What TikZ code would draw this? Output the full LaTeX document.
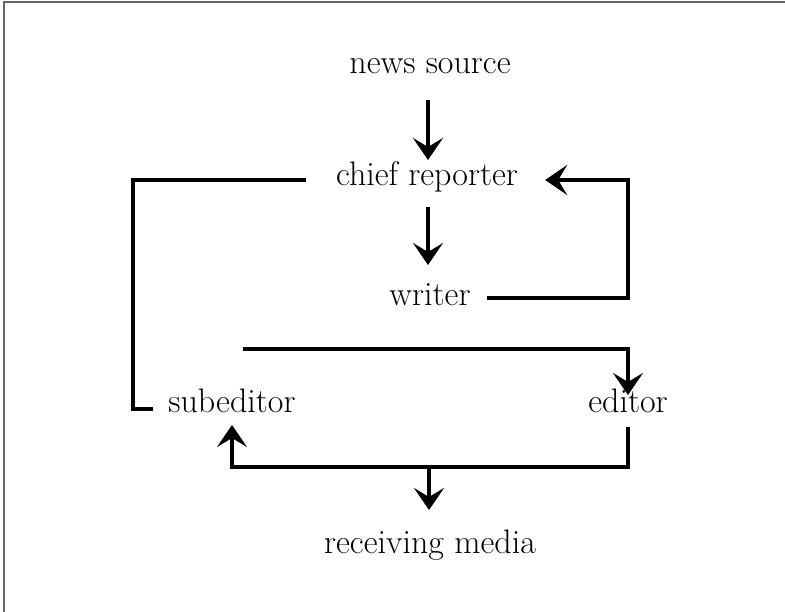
\documentclass[tikz,border=0pt]{standalone}
\usetikzlibrary{arrows.meta}
\begin{document}
\begin{tikzpicture}[x=1pt,y=-1pt,
  lbl/.style={anchor=base,inner sep=0pt,font=\fontsize{34}{40}\selectfont},
  conn/.style={line width=4pt},
  arr/.style={conn,-{Stealth[length=22pt,width=30pt,inset=9pt]}}]
\useasboundingbox (0,0) rectangle (785,612);
\draw[black!60, line width=1.5pt] (4,612) -- (4,2) -- (785,2);
\node[lbl] (ns) at (430,74) {news source};
\node[lbl] (cr) at (427,186) {chief reporter};
\node[lbl] (wr) at (430,306) {writer};
\node[lbl] (sub) at (232,413) {subeditor};
\node[lbl] (ed) at (628,413) {editor};
\node[lbl] (rm) at (430,553) {receiving media};
\coordinate (rc) at (628,180);
\coordinate (lc) at (133,409);
\coordinate (jn) at (429,467);
\draw[arr] ([xshift=-2pt,yshift=-26pt]ns.base) -- ([xshift=1pt,yshift=26pt]cr.base);
\draw[arr] ([xshift=1pt,yshift=-21pt]cr.base) -- ([xshift=-2pt,yshift=41pt]wr.base);
\draw[arr] ([xshift=16pt,yshift=8pt]wr.base east) -| (rc) -- ([xshift=27pt,yshift=6pt]cr.base east);
\draw[conn] ([xshift=-30pt,yshift=6pt]cr.base west) -| (lc) -- ([xshift=-15pt,yshift=4pt]sub.base west);
\draw[arr] ([xshift=11pt,yshift=64pt]sub.base) -| ([yshift=18pt]ed.base);
\draw[arr] ([yshift=-14pt]ed.base) |- (jn) -| ([yshift=-12pt]sub.base);
\draw[arr] (jn) -- ([xshift=-1pt,yshift=43pt]rm.base);
\end{tikzpicture}
\end{document}
